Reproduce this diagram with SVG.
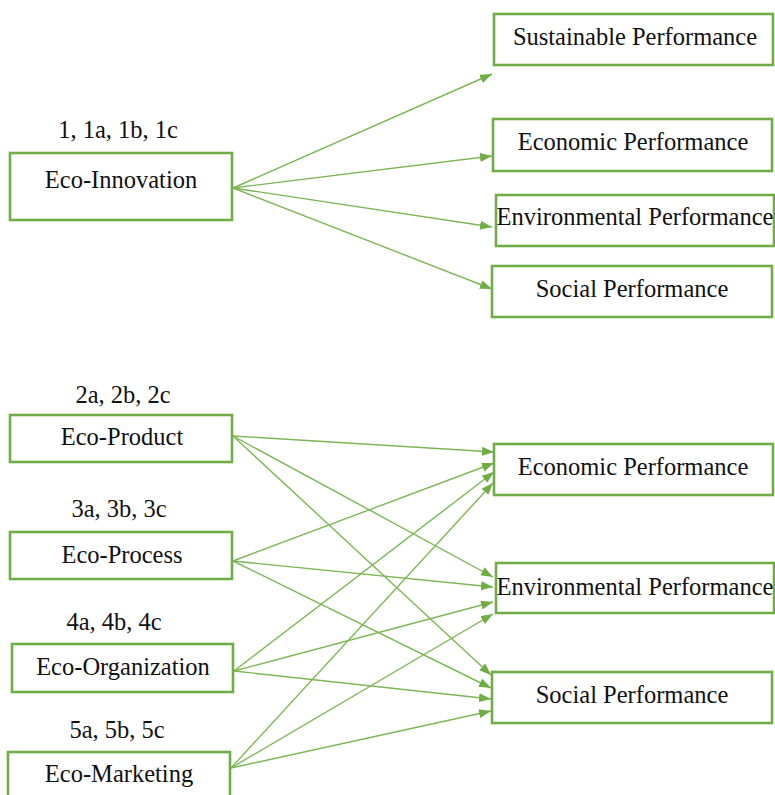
<svg xmlns="http://www.w3.org/2000/svg" width="775" height="795" viewBox="0 0 775 795">
<style>
.box{fill:#fff;stroke:#70AD47;stroke-width:2.6}
.c{stroke:#7DB655;stroke-width:1.4;fill:none;marker-end:url(#ah)}
</style>
<defs>
<marker id="ah" markerUnits="userSpaceOnUse" markerWidth="13" markerHeight="10" refX="12" refY="4.5" orient="auto">
<path d="M0,0 L12,4.5 L0,9 z" fill="#70AD47"/>
</marker>
</defs>
<rect width="775" height="795" fill="#fff"/>
<g id="connectors">
<line class="c" x1="233" y1="188" x2="492" y2="74"/>
<line class="c" x1="233" y1="188" x2="492" y2="156"/>
<line class="c" x1="233" y1="188" x2="492" y2="227"/>
<line class="c" x1="233" y1="188" x2="492" y2="289"/>
<line class="c" x1="233" y1="436" x2="494" y2="452"/>
<line class="c" x1="233" y1="436" x2="493" y2="577"/>
<line class="c" x1="233" y1="436" x2="491" y2="675"/>
<line class="c" x1="233" y1="561" x2="494" y2="463"/>
<line class="c" x1="233" y1="561" x2="493" y2="587"/>
<line class="c" x1="233" y1="561" x2="491" y2="688"/>
<line class="c" x1="234" y1="671" x2="494" y2="472"/>
<line class="c" x1="234" y1="671" x2="493" y2="602"/>
<line class="c" x1="234" y1="671" x2="491" y2="699"/>
<line class="c" x1="231" y1="768" x2="493" y2="483"/>
<line class="c" x1="231" y1="768" x2="493" y2="614"/>
<line class="c" x1="231" y1="768" x2="491" y2="711"/>
</g>
<g font-family="Liberation Serif" font-size="24.5" fill="#111" text-anchor="middle">
<g id="eco-innovation">
<text x="118" y="138">1, 1a, 1b, 1c</text>
<rect class="box" x="10" y="153" width="222" height="67"/>
<text x="121" y="188">Eco-Innovation</text>
</g>
<g id="sustainable-performance">
<rect class="box" x="494" y="14" width="279" height="51"/>
<text x="635" y="45">Sustainable Performance</text>
</g>
<g id="economic-performance-1">
<rect class="box" x="493" y="119" width="279" height="52"/>
<text x="633" y="150">Economic Performance</text>
</g>
<g id="environmental-performance-1">
<rect class="box" x="496" y="195" width="278" height="51"/>
<text x="635" y="225">Environmental Performance</text>
</g>
<g id="social-performance-1">
<rect class="box" x="492" y="266" width="280" height="51"/>
<text x="632" y="297">Social Performance</text>
</g>
<g id="eco-product">
<text x="123" y="403">2a, 2b, 2c</text>
<rect class="box" x="10" y="415" width="222" height="47"/>
<text x="122" y="445">Eco-Product</text>
</g>
<g id="eco-process">
<text x="119" y="517">3a, 3b, 3c</text>
<rect class="box" x="10" y="532" width="222" height="47"/>
<text x="122" y="563">Eco-Process</text>
</g>
<g id="eco-organization">
<text x="114" y="630">4a, 4b, 4c</text>
<rect class="box" x="12" y="644" width="221" height="48"/>
<text x="123" y="675">Eco-Organization</text>
</g>
<g id="eco-marketing">
<text x="117" y="738">5a, 5b, 5c</text>
<rect class="box" x="8" y="752" width="222" height="60"/>
<text x="119" y="782">Eco-Marketing</text>
</g>
<g id="economic-performance-2">
<rect class="box" x="494" y="444" width="279" height="51"/>
<text x="633" y="475">Economic Performance</text>
</g>
<g id="environmental-performance-2">
<rect class="box" x="496" y="563" width="278" height="50"/>
<text x="635" y="595">Environmental Performance</text>
</g>
<g id="social-performance-2">
<rect class="box" x="492" y="672" width="280" height="51"/>
<text x="632" y="703">Social Performance</text>
</g>
</g>
</svg>
